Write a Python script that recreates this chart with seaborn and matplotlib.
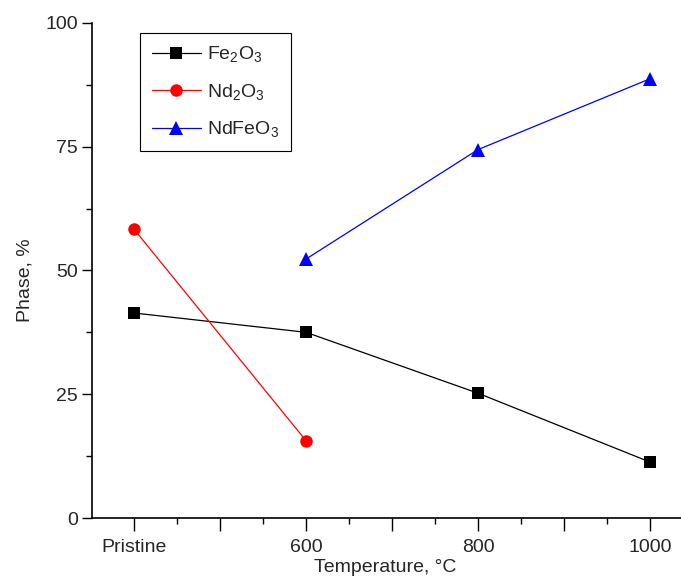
import matplotlib
matplotlib.use("Agg")
import matplotlib.pyplot as plt
import seaborn as sns

# temperature positions (Pristine drawn at 400 on the numeric axis)
temps = [400, 600, 800, 1000]
tick_labels = ["Pristine", "600", "800", "1000"]

fe2o3 = [41.4, 37.5, 25.2, 11.3]
nd2o3_temps = [400, 600]
nd2o3 = [58.3, 15.6]
ndfeo3_temps = [600, 800, 1000]
ndfeo3 = [52.3, 74.4, 88.7]

sns.set_style("ticks")
plt.rcParams["font.family"] = ["Liberation Sans", "DejaVu Sans"]
plt.rcParams["mathtext.default"] = "regular"

fig = plt.figure(figsize=(6.81, 5.85), dpi=100)
ax = fig.add_axes([0.135, 0.1145, 0.865, 0.8465])

sns.lineplot(x=temps, y=fe2o3, ax=ax, color="black", marker="s", markersize=8,
             markeredgewidth=0, linewidth=0.9, label="Fe$_2$O$_3$")
sns.lineplot(x=nd2o3_temps, y=nd2o3, ax=ax, color="red", marker="o", markersize=9,
             markeredgewidth=0, linewidth=0.9, label="Nd$_2$O$_3$")
sns.lineplot(x=ndfeo3_temps, y=ndfeo3, ax=ax, color="blue", marker="^", markersize=10,
             markeredgewidth=0, linewidth=0.9, label="NdFeO$_3$")

ax.set_xlim(351, 1036)
ax.set_ylim(0, 100)
major_x = list(range(400, 1001, 100))
ax.set_xticks(major_x)
ax.set_xticklabels([tick_labels[temps.index(t)] if t in temps else "" for t in major_x])
ax.set_xticks([t + 50 for t in major_x[:-1]], minor=True)
ax.set_yticks([0, 25, 50, 75, 100])
ax.set_yticks([12.5, 37.5, 62.5, 87.5], minor=True)

ax.tick_params(axis="both", which="major", direction="out", length=7, width=1,
               labelsize=14, color="black", pad=3)
ax.tick_params(axis="both", which="minor", direction="out", length=4, width=1,
               color="black")
ax.tick_params(axis="x", which="major", length=9, pad=6)

for side in ["top", "right"]:
    ax.spines[side].set_visible(False)
for side in ["left", "bottom"]:
    ax.spines[side].set_color("black")
    ax.spines[side].set_linewidth(1.2)

ax.set_xlabel("Temperature, °C", fontsize=14)
ax.set_ylabel("Phase, %", fontsize=14)
ax.xaxis.set_label_coords(0.497, -0.083)
ax.yaxis.set_label_coords(-0.1, 0.48)

leg = ax.legend(loc="upper left", bbox_to_anchor=(0.082, 0.98), fontsize=14,
                frameon=True, fancybox=False, edgecolor="black", framealpha=1,
                handlelength=2.5, handletextpad=0.35, borderpad=0.6,
                labelspacing=0.9, borderaxespad=0)
leg.get_frame().set_linewidth(0.8)

fig.savefig("out.png", dpi=100)
